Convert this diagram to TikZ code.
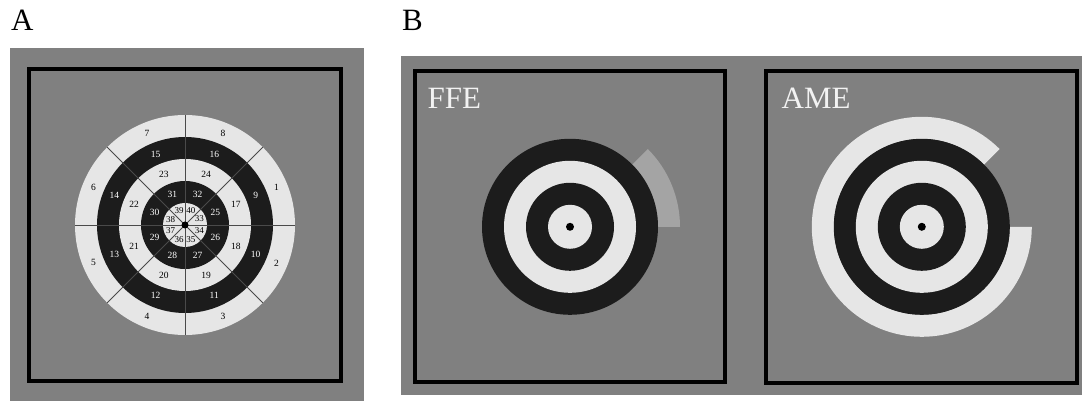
\documentclass[tikz,border=0pt]{standalone}
\usepackage{fontspec}
\setmainfont{Liberation Serif}
\definecolor{bg}{HTML}{808080}
\definecolor{lt}{HTML}{E6E6E6}
\definecolor{dk}{HTML}{1C1C1C}
\definecolor{seg}{HTML}{A4A4A4}
\definecolor{sepc}{HTML}{4A4A4A}
\definecolor{lbl}{HTML}{F2F2F2}
\tikzset{
  panelbg/.style={fill=bg},
  frame/.style={draw=black,line width=4pt},
  sepline/.style={draw=sepc,line width=0.8pt},
  num/.style={inner sep=0pt,font=\fontsize{9.5}{10}\selectfont},
  bignum/.style={inner sep=0pt,font=\fontsize{9}{10}\selectfont},
  plabel/.style={anchor=base west,inner sep=0pt,font=\fontsize{31}{34}\selectfont},
}
\begin{document}
\begin{tikzpicture}[x=1pt,y=1pt]
\useasboundingbox (0,0) rectangle (1082,401);
% panel labels
\node[plabel] (labA) at (11,370) {A};
\node[plabel] (labB) at (402,370) {B};
% panel backgrounds
\fill[panelbg] (10,0) rectangle (364.3,352.7);
\fill[panelbg] (400.5,6) rectangle (1082,344.5);
% frames
\draw[frame] (28.7,19.7) rectangle (341.3,332.3);
\draw[frame] (414.7,18.5) rectangle (725.3,329.7);
\draw[frame] (766.3,18) rectangle (1077.3,329.7);
% centres
\coordinate (cA) at (185,176);
\coordinate (cF) at (570,174.2);
\coordinate (cM) at (921.8,174.2);
% ---- panel A target
\fill[lt] (cA) circle[radius=110pt];
\fill[dk] (cA) circle[radius=88pt];
\fill[lt] (cA) circle[radius=66pt];
\fill[dk] (cA) circle[radius=44pt];
\fill[lt] (cA) circle[radius=22pt];
\foreach \a in {0,45,...,315}
  \draw[sepline] (cA) -- ([shift={(\a:110pt)}]cA);
\fill[black] (cA) circle[radius=3.5pt];
\foreach \k/\r/\c in {0/99/black,1/76.5/white,2/55/black,3/33/white}{
  \foreach \j in {1,...,8}{
    \pgfmathtruncatemacro\n{8*\k+\j}
    \node[num,text=\c] (n\n) at ([shift={({22.5-45*(\j-1)}:\r pt)}]cA) {\n};
  }
}
\foreach \j in {1,...,8}{
  \pgfmathtruncatemacro\n{32+\j}
  \node[bignum,text=black] (n\n) at ([shift={({22.5-45*(\j-1)}:15.5pt)}]cA) {\n};
}
% ---- FFE target
\fill[seg] ([shift={(0:88pt)}]cF) arc[start angle=0,end angle=45,radius=88pt]
  -- ([shift={(45:110pt)}]cF) arc[start angle=45,end angle=0,radius=110pt] -- cycle;
\fill[dk] (cF) circle[radius=88pt];
\fill[lt] (cF) circle[radius=66pt];
\fill[dk] (cF) circle[radius=44pt];
\fill[lt] (cF) circle[radius=22pt];
\fill[black] (cF) circle[radius=4pt];
\node[plabel,text=lbl] (ffe) at (427.5,292.7) {FFE};
% ---- AME target
\fill[lt] ([shift={(45:110pt)}]cM) arc[start angle=45,end angle=360,radius=110pt]
  -- ([shift={(0:88pt)}]cM) arc[start angle=360,end angle=45,radius=88pt] -- cycle;
\fill[dk] (cM) circle[radius=88pt];
\fill[lt] (cM) circle[radius=66pt];
\fill[dk] (cM) circle[radius=44pt];
\fill[lt] (cM) circle[radius=22pt];
\fill[black] (cM) circle[radius=4pt];
\node[plabel,text=lbl] (ame) at (781.5,292.7) {AME};
\end{tikzpicture}
\end{document}
